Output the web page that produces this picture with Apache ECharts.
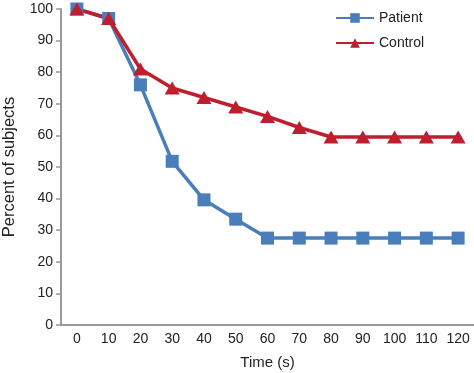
<!DOCTYPE html>
<html><head><meta charset="utf-8">
<script src="https://cdn.jsdelivr.net/npm/echarts@6/dist/echarts.min.js"></script>
<style>html,body{margin:0;padding:0;background:#fff}#c{width:474px;height:373px}</style>
</head><body><div id="c"></div>
<script>
const categories = ['0','10','20','30','40','50','60','70','80','90','100','110','120'];
const patient = [100, 97, 76, 51.8, 39.6, 33.5, 27.5, 27.5, 27.5, 27.5, 27.5, 27.5, 27.5];
const control = [100, 97, 81, 75, 72, 69, 66, 62.5, 59.5, 59.5, 59.5, 59.5, 59.5];
const yTicks = [0, 100, 10];
const chart = echarts.init(document.getElementById('c'), null, {renderer:'canvas'});
const font = 'Liberation Sans';
chart.setOption({
  animation:false,
  textStyle:{fontFamily:font},
  grid:{left:61, right:0, top:9, bottom:48, containLabel:false, outerBoundsMode:'none'},
  legend:{
    orient:'vertical', left:330, top:6, itemGap:11, itemWidth:38, itemHeight:12,
    textStyle:{fontFamily:font, fontSize:14, color:'#222'},
    data:['Patient','Control']
  },
  xAxis:{
    type:'category', data:categories, boundaryGap:true,
    name:'Time (s)', nameLocation:'middle', nameGap:30,
    nameTextStyle:{fontFamily:font, fontSize:15, color:'#222'},
    axisLine:{lineStyle:{color:'#999', width:2}},
    axisTick:{show:false},
    axisLabel:{fontFamily:font, fontSize:14, color:'#222', margin:7, interval:0}
  },
  yAxis:{
    type:'value', min:yTicks[0], max:yTicks[1], interval:yTicks[2],
    name:'Percent of subjects', nameLocation:'middle', nameGap:43,
    nameTextStyle:{fontFamily:font, fontSize:16.5, color:'#222'},
    axisLine:{show:true, lineStyle:{color:'#999', width:2}},
    axisTick:{show:true, length:5, lineStyle:{color:'#999', width:1.5}},
    splitLine:{show:false},
    axisLabel:{fontFamily:font, fontSize:14, color:'#222', margin:8}
  },
  series:[
    {name:'Patient', type:'line', data:patient, symbol:'rect', symbolSize:13,
     lineStyle:{color:'#4a7ebb', width:3.5}, itemStyle:{color:'#4a7ebb'}},
    {name:'Control', type:'line', data:control, symbol:'triangle', symbolSize:[15,13],
     lineStyle:{color:'#be1e2d', width:3.5}, itemStyle:{color:'#be1e2d'}}
  ]
});
</script></body></html>
